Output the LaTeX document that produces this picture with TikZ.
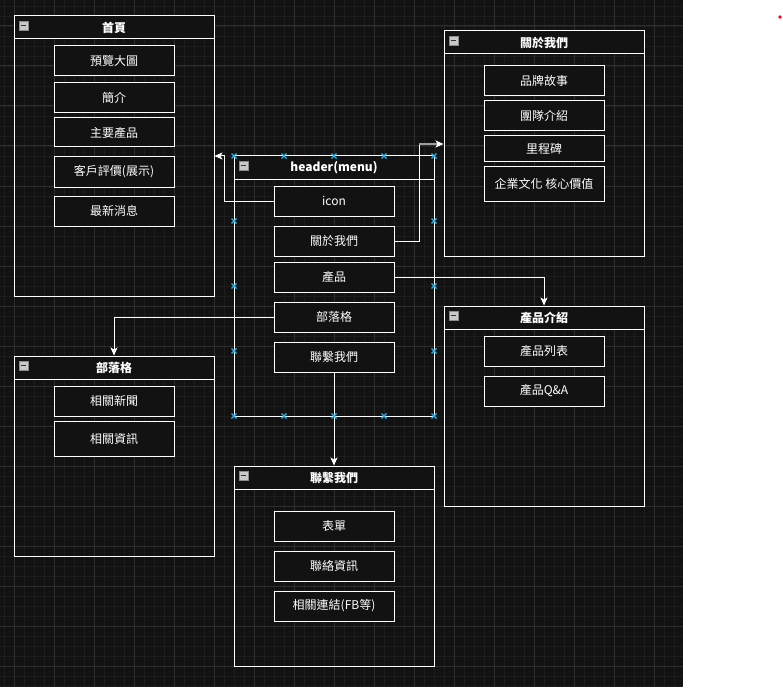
\documentclass[tikz,border=0pt]{standalone}
\usepackage{fontspec}
\setmainfont{Noto Sans CJK TC}
\usetikzlibrary{arrows.meta}
\definecolor{bg}{HTML}{121212}
\definecolor{gmajor}{HTML}{2E2E2E}
\definecolor{gminor}{HTML}{1D1D1D}
\definecolor{handle}{HTML}{29B6F2}
\definecolor{mboxfill}{HTML}{C9C9C9}
\definecolor{mboxdraw}{HTML}{8A8A8A}
\definecolor{edgegray}{HTML}{9E9E9E}
\tikzset{
  cont/.style={draw=white, line width=1pt, inner sep=0pt, minimum width=200pt},
  hdr/.style={draw=white, fill=bg, line width=1pt},
  ttl/.style={text=white, font=\fontsize{12}{14}\selectfont\bfseries, inner sep=0pt},
  itembox/.style={draw=white, fill=bg, line width=1pt, text=white, inner sep=0pt,
    minimum width=120pt, minimum height=30pt, font=\fontsize{12}{14}\selectfont},
  mbox/.style={draw=mboxdraw, fill=mboxfill, line width=0.8pt},
  mline/.style={draw=black!80, line width=1.5pt},
  edge/.style={draw=white, line width=1pt, -{Stealth[length=8pt,width=7pt,inset=2pt]}},
  edgeplain/.style={draw=white, line width=1pt},
  edgegrey/.style={draw=edgegray, line width=1.5pt, -{Stealth[length=8pt,width=7pt,inset=2pt,color=white]}},
  hmark/.style={draw=handle, line width=1.3pt},
}
\newcommand\mkctr[6]{%
  \node[cont, minimum height=#5pt] (#1) at ({#2+#4/2},{#3+#5/2}) {};
  \draw[hdr] (#2,#3) rectangle ({#2+#4},{#3+23});
  \node[ttl] (#1-t) at ({#2+#4/2},{#3+11.5}) {#6};
  \draw[mbox] ({#2+5},{#3+5}) rectangle ({#2+14},{#3+14});
  \draw[mline] ({#2+7},{#3+9.5}) -- ({#2+12},{#3+9.5});
}
\newcommand\mkitem[5]{%
  \node[itembox, minimum height=#4pt] (#1) at (#2,#3) {#5};
}
\begin{document}
\begin{tikzpicture}[x=1pt,y=-1pt]
\useasboundingbox (0,0) rectangle (783,687);
\fill[white] (0,0) rectangle (783,687);
\fill[bg] (0,0) rectangle (683,687);
\begin{scope}
  \clip (0,0) rectangle (683,687);
  \foreach \x in {4,14,...,684} \draw[gminor, line width=0.8pt] (\x,0) -- (\x,687);
  \foreach \y in {6,16,...,686} \draw[gminor, line width=0.8pt] (0,\y) -- (683,\y);
  \foreach \x in {14,54,...,684} \draw[gmajor, line width=1pt] (\x,0) -- (\x,687);
  \foreach \y in {26,66,...,686} \draw[gmajor, line width=1pt] (0,\y) -- (683,\y);
\end{scope}
\fill[red] (780,17) circle (1.8);

% containers
\mkctr{home}{14}{16}{200}{280}{首頁}
\mkctr{menu}{234}{156}{200}{260}{header(menu)}
\mkctr{aboutc}{444}{31}{200}{225}{關於我們}
\mkctr{prodc}{444}{306}{200}{200}{產品介紹}
\mkctr{blogc}{14}{356}{200}{200}{部落格}
\mkctr{contactc}{234}{466}{200}{200}{聯繫我們}

% items
\mkitem{h1}{114}{61}{30}{預覽大圖}
\mkitem{h2}{114}{98}{30}{簡介}
\mkitem{h3}{114}{132.5}{29}{主要產品}
\mkitem{h4}{114}{172}{30}{客戶評價(展示)}
\mkitem{h5}{114}{211}{30}{最新消息}

\mkitem{micon}{334}{201}{30}{icon}
\mkitem{mabout}{334}{241}{30}{關於我們}
\mkitem{mprod}{334}{277}{30}{產品}
\mkitem{mblog}{334}{317}{30}{部落格}
\mkitem{mcontact}{334}{357}{30}{聯繫我們}

\mkitem{a1}{544}{81}{30}{品牌故事}
\mkitem{a2}{544}{116}{30}{團隊介紹}
\mkitem{a3}{544}{148.5}{25}{里程碑}
\mkitem{a4}{544}{183.5}{35}{企業文化 核心價值}

\mkitem{p1}{544}{351}{30}{產品列表}
\mkitem{p2}{544}{391}{30}{產品Q\&A}

\mkitem{b1}{114}{401}{30}{相關新聞}
\mkitem{b2}{114}{438.5}{35}{相關資訊}

\mkitem{c1}{334}{526}{30}{表單}
\mkitem{c2}{334}{566}{30}{聯絡資訊}
\mkitem{c3}{334}{606}{30}{相關連結(FB等)}

% connectors
\coordinate (iconbend) at (224,156);
\coordinate (aboutbend) at (419,144);
\draw[edge] (micon.west) -| (iconbend) -- (home.east |- iconbend);
\draw[edgeplain] (mabout.east) -| (aboutbend);
\draw[edgegrey] (aboutbend) -- (aboutc.west |- aboutbend);
\draw[edge] (mprod.east) -| (prodc.north);
\draw[edge] (mblog.west) -| (blogc.north);
\draw[edge] (mcontact.south) -- (contactc.north);

% selection handles of header(menu)
\foreach \x in {234,284,334,384,434} {
  \foreach \y in {156,416} {
    \draw[hmark] (\x-2.5,\y-2.5) -- (\x+2.5,\y+2.5) (\x-2.5,\y+2.5) -- (\x+2.5,\y-2.5);
  }
}
\foreach \y in {221,286,351} {
  \foreach \x in {234,434} {
    \draw[hmark] (\x-2.5,\y-2.5) -- (\x+2.5,\y+2.5) (\x-2.5,\y+2.5) -- (\x+2.5,\y-2.5);
  }
}
\end{tikzpicture}
\end{document}
